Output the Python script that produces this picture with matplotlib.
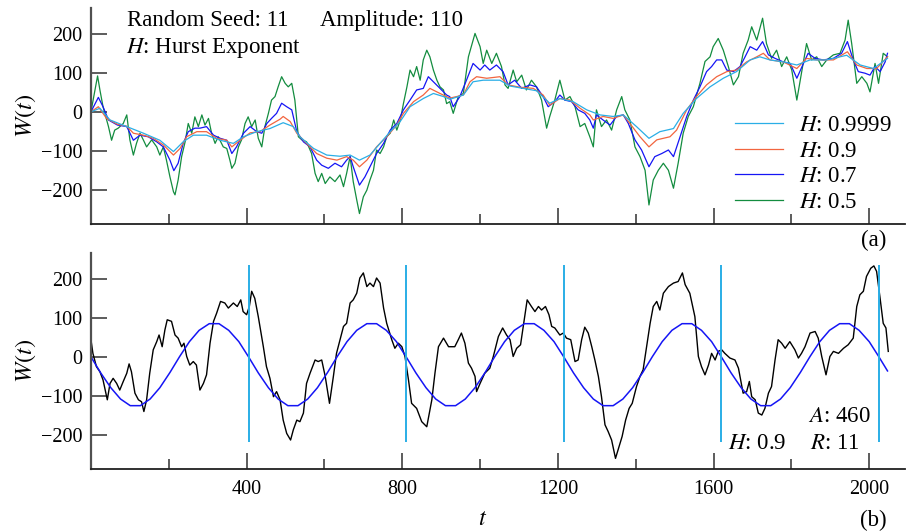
import matplotlib
matplotlib.use("Agg")
import matplotlib.pyplot as plt
from matplotlib.ticker import MultipleLocator

plt.rcParams['font.family'] = ['Liberation Serif', 'DejaVu Serif']
plt.rcParams['mathtext.fontset'] = 'stix'

# --- panel (a): same noise, four Hurst exponents ---
green_t = [0, 17, 23, 31, 45, 53, 61, 70, 83, 92, 100, 109, 117, 126, 135, 143, 156, 169, 177, 186,
           194, 203, 212, 216, 224, 233, 242, 250, 259, 267, 276, 285, 293, 302, 310, 319, 327, 340, 349, 357,
           362, 370, 379, 387, 396, 404, 413, 422, 430, 439, 447, 456, 464, 473, 481, 490, 499, 507, 516, 524,
           533, 542, 554, 567, 576, 584, 593, 602, 614, 627, 640, 649, 657, 666, 674, 683, 690, 700, 709, 717,
           726, 734, 743, 752, 760, 769, 778, 786, 795, 803, 812, 820, 829, 837, 846, 854, 863, 871, 880, 889,
           897, 906, 914, 922, 931, 944, 957, 970, 987, 1000, 1008, 1017, 1030, 1042, 1055, 1064, 1072, 1085, 1094, 1107,
           1119, 1132, 1145, 1158, 1171, 1179, 1192, 1205, 1218, 1231, 1244, 1257, 1269, 1282, 1291, 1299, 1312, 1325, 1338, 1351,
           1364, 1372, 1385, 1398, 1411, 1424, 1434, 1445, 1458, 1471, 1484, 1497, 1509, 1522, 1535, 1548, 1565, 1578, 1591, 1599,
           1612, 1625, 1638, 1651, 1664, 1676, 1689, 1698, 1711, 1726, 1736, 1749, 1762, 1775, 1788, 1801, 1814, 1826, 1839, 1852,
           1865, 1878, 1891, 1908, 1925, 1938, 1946, 1955, 1968, 1981, 1994, 2002, 2015, 2024, 2036, 2047]
green_w = [0, 92, 56, 13, -38, -73, -47, -42, -30, -8, -72, -111, -81, -55, -73, -90, -72, -90, -111, -90,
           -124, -167, -205, -213, -175, -115, -77, -30, -55, -13, -38, -8, -34, -17, -55, -81, -64, -90, -94, -124,
           -145, -132, -90, -72, -30, -13, -38, -21, -68, -90, -38, -4, 30, 39, 64, 90, 73, 64, 73, 30,
           -64, -72, -77, -107, -158, -179, -158, -184, -167, -179, -162, -192, -158, -115, -179, -226, -261, -218, -201, -175,
           -150, -98, -107, -90, -64, -55, -21, -47, -21, 21, 64, 107, 90, 116, 81, 133, 158, 141, 107, 81,
           64, 56, 21, 26, -4, 39, 47, 141, 201, 167, 124, 158, 124, 150, 116, 69, 60, 107, 77, 94,
           56, 81, 64, 30, -42, -12, 30, 81, 30, 39, 13, -38, -30, -64, -90, 5, -38, -21, -47, 5,
           39, 5, -21, -90, -115, -150, -239, -175, -150, -132, -150, -196, -132, -55, -12, 13, 73, 129, 141, 167,
           188, 158, 116, 69, 90, 150, 184, 218, 184, 240, 175, 137, 158, 116, 141, 107, 30, 99, 175, 133,
           141, 116, 133, 146, 150, 184, 235, 175, 73, 90, 73, 51, 124, 73, 150, 141]

blue_t = [0, 19, 31, 45, 68, 92, 109, 126, 147, 169, 186, 203, 213, 224, 237, 250, 267, 280, 297, 315,
          332, 349, 362, 374, 392, 409, 426, 439, 452, 464, 477, 490, 503, 516, 529, 546, 563, 580, 593, 610,
          627, 644, 657, 666, 674, 690, 704, 717, 734, 752, 769, 786, 803, 820, 837, 854, 867, 880, 897, 914,
          922, 931, 948, 965, 982, 1000, 1012, 1025, 1042, 1059, 1072, 1089, 1107, 1128, 1145, 1162, 1175, 1192, 1205, 1218,
          1235, 1252, 1269, 1282, 1291, 1299, 1316, 1334, 1351, 1368, 1381, 1398, 1415, 1434, 1449, 1467, 1484, 1497, 1514, 1531,
          1548, 1565, 1582, 1595, 1608, 1621, 1634, 1651, 1668, 1681, 1694, 1711, 1726, 1741, 1758, 1779, 1797, 1814, 1831, 1843,
          1861, 1882, 1908, 1929, 1944, 1959, 1972, 1989, 2002, 2015, 2028, 2041, 2047]
blue_w = [0, 37, 13, -21, -34, -38, -73, -60, -64, -77, -90, -124, -151, -132, -81, -51, -42, -42, -38, -60,
          -68, -73, -107, -90, -55, -38, -51, -55, -30, -17, -4, 22, 13, 5, -51, -77, -90, -124, -137, -145,
          -132, -141, -124, -115, -141, -188, -167, -141, -107, -81, -47, -30, 5, 30, 56, 60, 90, 77, 60, 43,
          39, 13, 39, 81, 124, 107, 120, 107, 120, 103, 69, 81, 60, 69, 64, 39, 13, 26, 43, 30,
          26, 5, -4, -21, -42, -8, -21, -34, -12, -8, -30, -72, -98, -141, -115, -107, -98, -115, -64, -12,
          30, 64, 103, 116, 133, 133, 107, 103, 116, 141, 167, 158, 180, 146, 137, 128, 124, 86, 124, 150,
          137, 133, 137, 150, 180, 133, 103, 99, 94, 116, 103, 128, 150]

orange_t = [0, 19, 40, 68, 92, 109, 135, 160, 186, 212, 229, 246, 272, 297, 323, 349, 362, 383, 409, 434,
            460, 486, 494, 512, 529, 554, 580, 606, 632, 657, 674, 690, 709, 734, 760, 786, 803, 829, 854, 871,
            897, 922, 957, 974, 991, 1017, 1051, 1072, 1102, 1137, 1162, 1179, 1205, 1231, 1257, 1282, 1291, 1316, 1342, 1368,
            1385, 1411, 1434, 1454, 1488, 1505, 1531, 1556, 1582, 1608, 1634, 1659, 1685, 1711, 1728, 1745, 1779, 1814, 1839, 1865,
            1908, 1944, 1968, 1994, 2019, 2047]
orange_w = [0, 13, -17, -32, -37, -55, -60, -68, -85, -111, -94, -64, -51, -51, -68, -73, -90, -73, -54, -51,
            -34, -19, -12, -25, -55, -81, -107, -119, -124, -115, -124, -141, -124, -90, -64, -34, -4, 26, 43, 60,
            47, 35, 43, 77, 90, 86, 90, 69, 63, 60, 43, 17, 34, 30, 9, -8, -21, -12, -17, -8,
            -30, -64, -90, -72, -64, -47, 5, 39, 69, 90, 103, 107, 128, 141, 150, 133, 128, 111, 137, 133,
            133, 154, 120, 111, 111, 141]

cyan_t = [0, 23, 49, 92, 135, 177, 212, 237, 263, 297, 332, 366, 392, 426, 460, 494, 520, 537, 572, 606,
          640, 666, 690, 717, 743, 769, 794, 820, 854, 880, 906, 922, 957, 982, 1008, 1051, 1077, 1111, 1145, 1179,
          1205, 1239, 1274, 1308, 1342, 1368, 1402, 1434, 1462, 1497, 1522, 1556, 1591, 1625, 1659, 1694, 1719, 1745, 1779, 1814,
          1848, 1891, 1942, 1977, 2011, 2047]
cyan_w = [0, 9, -21, -38, -55, -73, -102, -77, -60, -60, -73, -81, -64, -51, -43, -28, -38, -64, -94, -111,
          -114, -111, -124, -111, -81, -51, -26, 13, 34, 47, 39, 32, 43, 77, 81, 81, 66, 60, 54, 22,
          34, 26, 5, -8, -12, -8, -38, -68, -51, -43, -4, 34, 64, 86, 103, 133, 141, 133, 128, 120,
          133, 133, 145, 120, 111, 137]

# --- panel (b): H = 0.9 path with the fitted wave ---
black_t = [0, 5, 14, 23, 31, 42, 49, 57, 66, 74, 83, 92, 98, 104, 113, 122, 130, 136, 143, 151,
           160, 169, 175, 183, 190, 196, 207, 216, 224, 233, 239, 246, 254, 263, 271, 280, 289, 297, 306, 315,
           323, 333, 344, 353, 366, 376, 385, 391, 400, 407, 413, 421, 430, 443, 451, 460, 469, 477, 486, 494,
           503, 513, 520, 529, 537, 546, 554, 563, 576, 584, 593, 602, 613, 623, 631, 640, 649, 657, 666, 674,
           683, 691, 700, 709, 717, 726, 734, 743, 752, 760, 773, 781, 790, 799, 807, 816, 824, 837, 850, 863,
           876, 884, 893, 906, 919, 935, 944, 952, 961, 970, 978, 987, 991, 1000, 1012, 1025, 1034, 1047, 1058, 1068,
           1077, 1085, 1094, 1104, 1113, 1121, 1132, 1141, 1150, 1158, 1168, 1177, 1184, 1192, 1205, 1214, 1222, 1233, 1244, 1252,
           1261, 1269, 1278, 1287, 1295, 1304, 1312, 1321, 1329, 1338, 1348, 1357, 1365, 1374, 1383, 1391, 1402, 1411, 1419, 1428,
           1437, 1445, 1454, 1462, 1471, 1484, 1497, 1509, 1520, 1527, 1539, 1552, 1561, 1569, 1578, 1587, 1595, 1604, 1612, 1621,
           1629, 1642, 1655, 1664, 1676, 1685, 1692, 1698, 1707, 1715, 1724, 1732, 1741, 1749, 1758, 1766, 1775, 1784, 1796, 1809,
           1818, 1826, 1835, 1848, 1861, 1869, 1878, 1889, 1899, 1908, 1921, 1934, 1946, 1959, 1968, 1976, 1985, 1993, 2004, 2012,
           2019, 2028, 2036, 2043, 2049]
black_w = [44, 9, -25, -38, -59, -110, -68, -55, -68, -85, -63, -42, -18, -38, -93, -110, -115, -140, -110, -42,
           18, 39, 56, 26, 69, 95, 91, 56, 48, 26, 35, 1, -21, -12, -21, -85, -68, -46, 35, 91,
           112, 142, 138, 125, 138, 129, 146, 116, 108, 129, 168, 150, 103, 26, -25, -55, -102, -89, -110, -162,
           -196, -213, -187, -162, -166, -144, -68, -42, -8, -12, -8, -50, -119, -50, 9, 44, 78, 86, 138, 146,
           163, 202, 215, 180, 189, 180, 202, 189, 125, 86, 44, 22, 35, 26, 1, -59, -119, -132, -166, -179,
           -110, -42, 26, 48, 26, 26, 44, 61, 35, -16, -29, -50, -89, -68, -42, -29, 1, 52, 74, 56,
           44, 1, 22, 31, 91, 146, 129, 116, 129, 120, 129, 108, 78, 74, 56, 61, 48, 44, -12, -8,
           44, 76, 61, 26, -8, -50, -102, -174, -191, -213, -260, -230, -204, -162, -132, -119, -76, -50, -33, 26,
           86, 129, 142, 120, 163, 180, 189, 193, 215, 185, 163, 103, 1, -25, -46, -21, 9, -8, 14, 18,
           9, -3, -8, -29, -93, -89, -63, -102, -110, -144, -149, -132, -93, -76, -8, 44, 35, 22, 39, 18,
           -3, 9, 26, 61, 65, 48, 1, -46, 1, 14, 9, 22, 31, 48, 129, 159, 168, 206, 227, 233,
           219, 150, 86, 74, 14]

wave_t = [0, 25, 51, 76, 101, 127, 152, 177, 203, 228, 253, 278, 304, 329, 354, 380,
          405, 430, 456, 481, 506, 532, 557, 582, 608, 633, 658, 683, 709, 734, 759, 785,
          810, 835, 861, 886, 911, 937, 962, 987, 1013, 1038, 1063, 1088, 1114, 1139, 1164, 1190,
          1215, 1240, 1266, 1291, 1316, 1342, 1367, 1392, 1418, 1443, 1468, 1493, 1519, 1544, 1569, 1595,
          1620, 1645, 1671, 1696, 1721, 1747, 1772, 1797, 1823, 1848, 1873, 1898, 1924, 1949, 1974, 2000,
          2025, 2047]
wave_w = [0, -41, -79, -108, -125, -125, -108, -79, -40, 1, 39, 68, 85, 85, 68, 39,
          0, -41, -79, -108, -125, -125, -108, -79, -40, 1, 39, 68, 85, 85, 68, 39,
          0, -41, -79, -108, -125, -125, -108, -79, -40, 1, 39, 68, 85, 85, 68, 39,
          0, -41, -79, -108, -125, -125, -108, -79, -40, 1, 39, 68, 85, 85, 68, 39,
          0, -41, -79, -108, -125, -125, -108, -79, -40, 1, 39, 68, 85, 85, 68, 39,
          0, -36]

marks_t = [405, 810, 1215, 1620, 2025]

C_CYAN = '#2aaee6'
C_ORANGE = '#f2653f'
C_BLUE = '#1515f5'
C_GREEN = '#138c3f'

fig = plt.figure(figsize=(9.06, 5.31), dpi=100)
ax1 = fig.add_axes([0.1004, 0.578, 0.8985, 0.4068])
ax2 = fig.add_axes([0.1004, 0.1162, 0.8985, 0.4073])

for ax in (ax1, ax2):
    ax.set_xlim(0, 2092)
    ax.set_ylim(-288, 266)
    for s in ('top', 'right'):
        ax.spines[s].set_visible(False)
    ax.spines['left'].set_color('#505050')
    ax.spines['left'].set_linewidth(1.6)
    ax.spines['bottom'].set_color('#202020')
    ax.spines['bottom'].set_linewidth(1.3)
    ax.xaxis.set_major_locator(MultipleLocator(400))
    ax.xaxis.set_minor_locator(MultipleLocator(200))
    ax.tick_params(which='major', direction='in', length=11.5, width=1.1, color='#303030',
                   labelsize=14.5, pad=6)
    ax.tick_params(which='minor', direction='in', length=7, width=1.1, color='#303030')
    ax.tick_params(axis='y', which='minor', length=0)
    ax.set_yticks([-200, -100, 0, 100, 200])
    for lab in ax.get_yticklabels():
        lab.set_fontfamily('Liberation Serif')
    ax.set_ylabel('$W(t)$', fontsize=17.5, labelpad=2)

# panel (a)
l5, = ax1.plot(green_t, green_w, color=C_GREEN, lw=0.9)
l7, = ax1.plot(blue_t, blue_w, color=C_BLUE, lw=0.9)
l9, = ax1.plot(orange_t, orange_w, color=C_ORANGE, lw=0.9)
l99, = ax1.plot(cyan_t, cyan_w, color=C_CYAN, lw=0.9)
ax1.tick_params(axis='x', labelbottom=False)
ax1.legend([l99, l9, l7, l5], ['$H$: 0.9999', '$H$: 0.9', '$H$: 0.7', '$H$: 0.5'],
           loc='upper left', bbox_to_anchor=(0.791, 0.505), frameon=False, fontsize=16.5,
           handlelength=2.1, handletextpad=0.7, labelspacing=0.2, borderpad=0, borderaxespad=0)
ax1.text(0.044, 0.917, 'Random Seed: 11', transform=ax1.transAxes, fontsize=16.5, va='baseline')
ax1.text(0.281, 0.917, 'Amplitude: 110', transform=ax1.transAxes, fontsize=16.5, va='baseline')
ax1.text(0.043, 0.790, '$H$: Hurst Exponent', transform=ax1.transAxes, fontsize=16.5, va='baseline')
ax1.text(0.961, -0.074, '(a)', transform=ax1.transAxes, fontsize=16.5, ha='center', va='center')

# panel (b)
ax2.plot(black_t, black_w, color='black', lw=1.0)
ax2.plot(wave_t, wave_w, color=C_BLUE, lw=1.1)
ax2.vlines(marks_t, -217, 236, color=C_CYAN, lw=1.4)
ax2.set_xticks([400, 800, 1200, 1600, 2000])
ax2.tick_params(axis='x', pad=8)
ax2.set_xlabel('$t$', fontsize=17.5)
ax2.xaxis.set_label_coords(0.4816, -0.185)
ax2.text(0.881, 0.220, '$A$: 460', transform=ax2.transAxes, fontsize=16.5, va='baseline')
ax2.text(0.7826, 0.0926, '$H$: 0.9', transform=ax2.transAxes, fontsize=16.5, va='baseline')
ax2.text(0.883, 0.0926, '$R$: 11', transform=ax2.transAxes, fontsize=16.5, va='baseline')
ax2.text(0.961, -0.236, '(b)', transform=ax2.transAxes, fontsize=16.5, ha='center', va='center')

fig.savefig('out.png', dpi=100)
